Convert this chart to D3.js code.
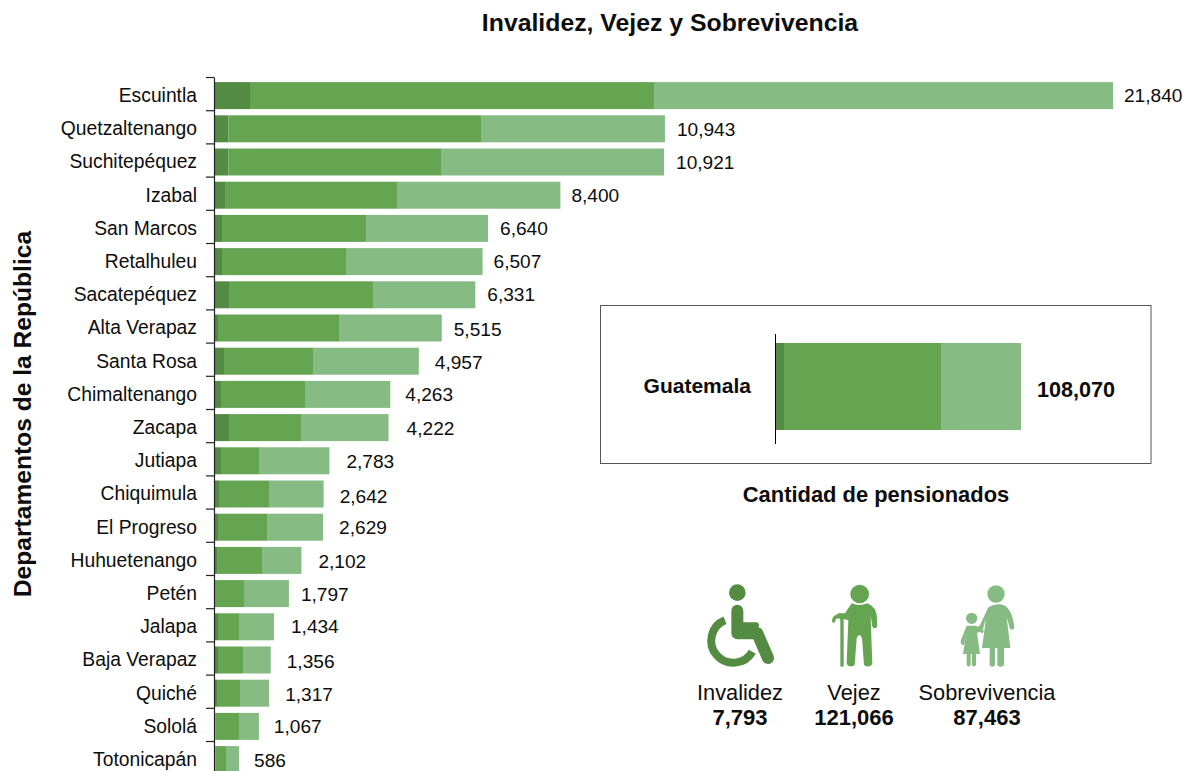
<!DOCTYPE html>
<html lang="es">
<head>
<meta charset="utf-8">
<script src="https://cdn.jsdelivr.net/npm/d3@7"></script>
<style>
    html, body { margin: 0; padding: 0; background: #fff; overflow: hidden; }
    text { font-family: "Liberation Sans", Arial, sans-serif; fill: #0d0d0d; }
</style>
</head>
<body>
<div id="chart"></div>
<script>
// values
const departamentos = ["Escuintla", "Quetzaltenango", "Suchitepéquez", "Izabal", "San Marcos", "Retalhuleu", "Sacatepéquez", "Alta Verapaz", "Santa Rosa", "Chimaltenango", "Zacapa", "Jutiapa", "Chiquimula", "El Progreso", "Huhuetenango", "Petén", "Jalapa", "Baja Verapaz", "Quiché", "Sololá", "Totonicapán"];
const invalidez = [851, 330, 330, 243, 170, 170, 340, 73, 219, 146, 340, 146, 97, 73, 49, 20, 73, 73, 49, 10, 10];
const vejez = [9825, 6139, 5166, 4183, 3502, 3016, 3502, 2943, 2164, 2043, 1751, 924, 1216, 1192, 1094, 685, 511, 608, 559, 574, 258];
const sobrevivencia = [11164, 4474, 5425, 3974, 2968, 3321, 2489, 2499, 2574, 2074, 2131, 1713, 1329, 1364, 959, 1092, 850, 675, 709, 483, 318];
const totales = [21840, 10943, 10921, 8400, 6640, 6507, 6331, 5515, 4957, 4263, 4222, 2783, 2642, 2629, 2102, 1797, 1434, 1356, 1317, 1067, 586];

const guatemalaPartes = [3950, 68980, 35140];
const guatemalaTotal = 108070;

const resumenNombres = ["Invalidez", "Vejez", "Sobrevivencia"];
const resumenValores = [7793, 121066, 87463];

// the labels in the original sit a little unevenly, so they get their own nudges
const labelGap = [11, 12, 12, 11, 12, 11, 12, 12, 16, 15, 18, 17, 16, 16, 17, 12, 17, 16, 16, 15, 15];
const labelNudge = [0, 1, 0, 0, 0, 0, 0, 1, 1, 0, 1, 1, 2, 0, 1, 1, 0, 1, 1, 0, 1];

const colors = ["#538b43", "#65a552", "#86bb83"];
const fmt = d3.format(",");

const svg = d3.select("#chart").append("svg")
    .attr("width", 1183)
    .attr("height", 771)
    .style("display", "block");

svg.append("text")
    .attr("x", 670)
    .attr("y", 31)
    .attr("text-anchor", "middle")
    .attr("font-size", "24.8px")
    .attr("font-weight", "700")
    .text("Invalidez, Vejez y Sobrevivencia");

svg.append("text")
    .attr("transform", "translate(31,414) rotate(-90)")
    .attr("text-anchor", "middle")
    .attr("font-size", "24.6px")
    .attr("font-weight", "700")
    .text("Departamentos de la República");

// main bars
let x = d3.scaleLinear().domain([0, 21840]).range([215, 1113]);
let y = d3.scaleBand()
    .domain(departamentos)
    .range([79, 776.2])
    .paddingInner(0.187)
    .paddingOuter(0.0935);

let rows = departamentos.map((name, i) => {
    let parts = [invalidez[i], vejez[i], sobrevivencia[i]];
    let acc = 0;
    return {
        name,
        i,
        total: totales[i],
        segs: parts.map((v, k) => {
            let seg = { k, x0: acc, x1: acc + v };
            acc += v;
            return seg;
        })
    };
});

let rowGroups = svg.append("g").selectAll("g")
    .data(rows)
    .join("g");

rowGroups.selectAll("rect")
    .data(d => d.segs.map(s => ({ ...s, name: d.name })))
    .join("rect")
    .attr("x", d => x(d.x0))
    .attr("y", d => y(d.name))
    .attr("width", d => x(d.x1) - x(d.x0))
    .attr("height", y.bandwidth())
    .attr("fill", d => colors[d.k]);

rowGroups.append("text")
    .attr("x", 197)
    .attr("y", d => y(d.name) + y.bandwidth() / 2)
    .attr("dy", "0.33em")
    .attr("text-anchor", "end")
    .attr("font-size", "19.3px")
    .text(d => d.name);

rowGroups.append("text")
    .attr("x", d => x(d.total) + labelGap[d.i])
    .attr("y", d => y(d.name) + y.bandwidth() / 2 + labelNudge[d.i])
    .attr("dy", "0.35em")
    .attr("font-size", "19.1px")
    .text(d => fmt(d.total));

// ticks sit on the row edges, not on the bars
let edge = d3.scaleLinear().domain([0, 21]).range([77, 774.2]);
let axisG = svg.append("g")
    .attr("transform", "translate(214,0)")
    .call(d3.axisLeft(edge).tickValues(d3.range(0, 21)).tickSize(8).tickSizeOuter(0).tickFormat(""));
axisG.select(".domain").attr("stroke", "#222").attr("stroke-width", 1.2);
axisG.selectAll(".tick line").attr("stroke", "#222").attr("stroke-width", 1.2);

// Guatemala inset
svg.append("rect")
    .attr("x", 600.5)
    .attr("y", 305.5)
    .attr("width", 550.5)
    .attr("height", 158)
    .attr("fill", "#fff")
    .attr("stroke", "#555")
    .attr("stroke-width", 1);

let xInset = d3.scaleLinear().domain([0, guatemalaTotal]).range([775, 1021]);
let insetSegs = [];
guatemalaPartes.reduce((acc, v, k) => {
    insetSegs.push({ k, x0: acc, x1: acc + v });
    return acc + v;
}, 0);

svg.append("g").selectAll("rect")
    .data(insetSegs)
    .join("rect")
    .attr("x", d => xInset(d.x0))
    .attr("y", 343)
    .attr("width", d => xInset(d.x1) - xInset(d.x0))
    .attr("height", 87)
    .attr("fill", d => colors[d.k]);

svg.append("line")
    .attr("x1", 775.5)
    .attr("x2", 775.5)
    .attr("y1", 334)
    .attr("y2", 444)
    .attr("stroke", "#000")
    .attr("stroke-width", 1);

svg.append("text")
    .attr("x", 751)
    .attr("y", 393)
    .attr("text-anchor", "end")
    .attr("font-size", "21px")
    .attr("font-weight", "700")
    .text("Guatemala");

svg.append("text")
    .attr("x", 1037)
    .attr("y", 397)
    .attr("font-size", "21.6px")
    .attr("font-weight", "700")
    .text(fmt(guatemalaTotal));

svg.append("text")
    .attr("x", 876)
    .attr("y", 502)
    .attr("text-anchor", "middle")
    .attr("font-size", "21.9px")
    .attr("font-weight", "700")
    .text("Cantidad de pensionados");

// summary under the inset
let resumenX = [740, 854, 987];
resumenNombres.forEach((name, i) => {
    svg.append("text")
        .attr("x", resumenX[i])
        .attr("y", 700)
        .attr("text-anchor", "middle")
        .attr("font-size", "21.8px")
        .text(name);
    svg.append("text")
        .attr("x", resumenX[i])
        .attr("y", 725)
        .attr("text-anchor", "middle")
        .attr("font-size", "22px")
        .attr("font-weight", "700")
        .text(fmt(resumenValores[i]));
});

// icons are traced in zoomed units (3x) from the corner of the block
let icons = svg.append("g").attr("transform", "translate(680,570) scale(0.33333)");

let wheel = icons.append("g");
wheel.append("circle").attr("cx", 172).attr("cy", 68).attr("r", 25).attr("fill", colors[0]);
wheel.append("path")
    .attr("d", "M172,122 L172,190 L232,190 L264,264")
    .attr("fill", "none")
    .attr("stroke", colors[0])
    .attr("stroke-width", 36)
    .attr("stroke-linecap", "round")
    .attr("stroke-linejoin", "round");
wheel.append("path")
    .attr("d", "M172,166 L228,166")
    .attr("fill", "none")
    .attr("stroke", colors[0])
    .attr("stroke-width", 18)
    .attr("stroke-linecap", "round");
wheel.append("path")
    .attr("d", "M135,151 A 66 66 0 1 0 217,245")
    .attr("fill", "none")
    .attr("stroke", colors[0])
    .attr("stroke-width", 24);

let viejo = icons.append("g");
viejo.append("circle").attr("cx", 539).attr("cy", 72).attr("r", 28).attr("fill", colors[1]);
viejo.append("path")
    .attr("d", "M515,100 Q539,110 562,100 Q590,110 591,145 L591,170 Q585,180 577,170 L572,135 L574,200 L577,282 Q568,296 552,285 L546,205 Q538,185 530,205 L524,285 Q510,296 500,282 L503,200 L505,150 L470,145 Q465,140 475,130 L495,130 Z")
    .attr("fill", colors[1]);
viejo.append("path")
    .attr("d", "M461,153 Q462,138 478,138 Q486,140 486,155 L486,286")
    .attr("fill", "none")
    .attr("stroke", colors[1])
    .attr("stroke-width", 10)
    .attr("stroke-linecap", "round");

let familia = icons.append("g").attr("fill", colors[2]);
familia.append("circle").attr("cx", 948).attr("cy", 72).attr("r", 26);
familia.append("path")
    .attr("d", "M925,112 Q948,98 972,106 Q996,118 1003,170 Q1002,184 990,176 L980,140 L991,234 L972,234 L972,285 Q962,296 952,285 L952,234 L945,234 L945,285 Q937,296 929,285 L929,234 L906,234 L918,145 L908,180 L890,190 L882,182 L900,165 Z");
familia.append("circle").attr("cx", 875).attr("cy", 145).attr("r", 17);
familia.append("path")
    .attr("d", "M860,167 L888,167 L912,182 L908,190 L890,182 L900,252 L888,252 L888,285 Q882,294 876,285 L876,252 L872,252 L872,285 Q866,294 860,285 L860,252 L849,252 L858,195 L852,225 Q842,226 842,212 Z");
</script>
</body>
</html>
